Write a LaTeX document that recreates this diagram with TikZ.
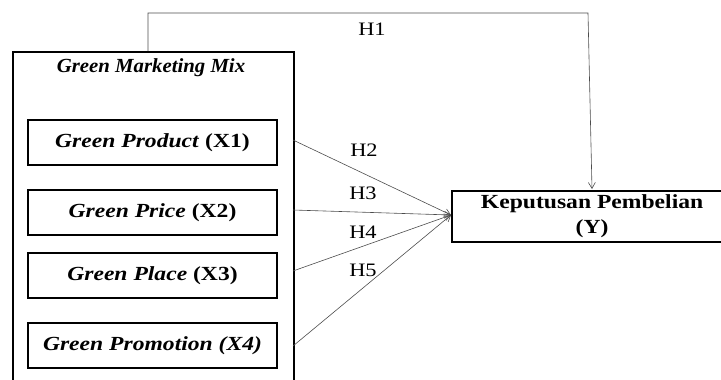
\documentclass[tikz,border=0pt]{standalone}
\usepackage{fontspec}
\setmainfont{Liberation Serif}[FakeStretch=1.18]
\newfontfamily\titlefont{Liberation Serif}[FakeStretch=1.04]
\usetikzlibrary{arrows.meta}
\begin{document}
\begin{tikzpicture}[x=1pt,y=-1pt,
  box/.style={draw=black,line width=2.2pt,inner sep=0pt},
  var/.style={box,minimum width=249pt,minimum height=45pt,font=\fontsize{20}{22}\selectfont\bfseries},
  link/.style={draw=black!70,line width=0.6pt,-{Straight Barb[length=6pt,width=7pt]}},
  hlab/.style={font=\fontsize{19}{21}\selectfont,inner sep=0pt}]
\useasboundingbox (0,0) rectangle (721,380);
\begin{scope}
\clip (0,0) rectangle (721,380);
% outer group, open below the page edge
\node[box,minimum width=281pt,minimum height=340pt,anchor=north west] (mix) at (12,51) {};
\node[font=\titlefont\fontsize{20}{22}\selectfont\bfseries\itshape] (title) at (151,68) {Green Marketing Mix};
\node[var] (x1) at (152.5,142.5) {\textit{Green Product} (X1)};
\node[var] (x2) at (152.5,212.5) {\textit{Green Price} (X2)};
\node[var] (x3) at (152.5,275.5) {\textit{Green Place} (X3)};
\node[var] (x4) at (152.5,345.5) {\textit{Green Promotion (X4)}};
\node[box,minimum width=280pt,minimum height=51pt,anchor=north west,align=center,
  font=\fontsize{20}{25}\selectfont\bfseries] (y) at (451,190) {Keputusan Pembelian\\(Y)};
\end{scope}
\coordinate (p1) at (293,140);
\coordinate (p2) at (293,210);
\coordinate (p3) at (293,271);
\coordinate (p4) at (293,346);
\coordinate (t) at (451,215);
\coordinate (up) at (148,51);
\coordinate (c1) at (148,13);
\coordinate (c2) at (588,13);
\coordinate (yt) at (592,189);
\draw[link] (up) -- (c1) -- (c2) -- (yt);
\draw[link] (p1) -- (t);
\draw[link] (p2) -- (t);
\draw[link] (p3) -- (t);
\draw[link] (p4) -- (t);
\node[hlab] (h1) at (372,29) {H1};
\node[hlab] (h2) at (364,150) {H2};
\node[hlab] (h3) at (363,193) {H3};
\node[hlab] (h4) at (363,232) {H4};
\node[hlab] (h5) at (363,270) {H5};
\end{tikzpicture}
\end{document}
